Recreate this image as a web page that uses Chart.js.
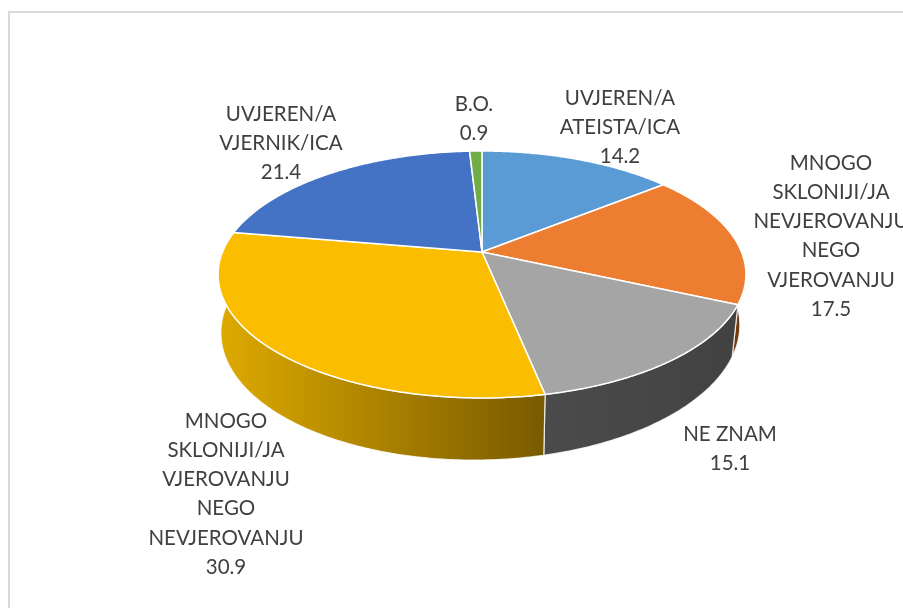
<!DOCTYPE html>
<html>
<head>
<meta charset="utf-8">
<title>Pie</title>
<script src="https://cdn.jsdelivr.net/npm/chart.js@4/dist/chart.umd.min.js"></script>
<style>
  html, body { margin: 0; padding: 0; background: #fff; overflow: hidden; }
  #wrap { position: relative; width: 903px; height: 608px; }
  #frame { position: absolute; left: 8px; top: 11px; right: -4px; bottom: -4px; border-left: 2px solid #d9d9d9; border-top: 2px solid #d9d9d9; }
  canvas { position: absolute; left: 0; top: 0; }
</style>
</head>
<body>
<div id="wrap">
  <div id="frame"></div>
  <canvas id="chart" width="903" height="608"></canvas>
</div>
<script>
// Data
const categories = [
  "UVJEREN/A ATEISTA/ICA",
  "MNOGO SKLONIJI/JA NEVJEROVANJU NEGO VJEROVANJU",
  "NE ZNAM",
  "MNOGO SKLONIJI/JA VJEROVANJU NEGO NEVJEROVANJU",
  "UVJEREN/A VJERNIK/ICA",
  "B.O."
];
const values = [14.2, 17.5, 15.1, 30.9, 21.4, 0.9];

// Styles
const topColors = ["#5b9bd5", "#ed7d31", "#a5a5a5", "#fbbd00", "#4472c4", "#70ad47"];
const wallFrom = ["#2e6da4", "#8a4716", "#4b4b4b", "#deaa00", "#2f5597", "#4c7a2f"];
const wallTo = ["#2e6da4", "#6f3810", "#424242", "#785a00", "#2f5597", "#4c7a2f"];

// Label layout: lines per category, with the centre of the block and first line
const labelLines = [
  ["UVJEREN/A", "ATEISTA/ICA"],
  ["MNOGO", "SKLONIJI/JA", "NEVJEROVANJU", "NEGO", "VJEROVANJU"],
  ["NE ZNAM"],
  ["MNOGO", "SKLONIJI/JA", "VJEROVANJU", "NEGO", "NEVJEROVANJU"],
  ["UVJEREN/A", "VJERNIK/ICA"],
  ["B.O."]
];
const labelX = [620, 831, 730, 226, 281, 474];
const labelY = [98.5, 163.5, 434.5, 421.5, 114.5, 104.5];
const lineHeight = 29.1;

// Tilted view of the round pie, fitted on the picture
const STRETCH_X = 259.5 / 119.4;
const PERSP = -0.182;
const DEPTH_W = 0.0165;
const DEPTH_Y = 54.2 / 119.4;
const LOWER_SHIFT_X = 2;
const LOWER_SKEW_Y = 5;

function project(arc, angle, lower) {
  const u = Math.cos(angle), v = Math.sin(angle);
  const r = arc.outerRadius;
  const w = 1 + PERSP * v + (lower ? DEPTH_W : 0);
  const p = {
    x: arc.x + r * STRETCH_X * u / w,
    y: arc.y + r * (v + (lower ? DEPTH_Y : 0)) / w
  };
  if (lower) {
    p.x -= LOWER_SHIFT_X * (1 - v);
    p.y -= LOWER_SKEW_Y * u;
  }
  return p;
}

function arcPoints(arc, lower) {
  const n = Math.max(2, Math.ceil((arc.endAngle - arc.startAngle) / 0.01));
  const pts = [];
  for (let i = 0; i <= n; i++) {
    pts.push(project(arc, arc.startAngle + (arc.endAngle - arc.startAngle) * i / n, lower));
  }
  return pts;
}

const tiltedPie = {
  id: "tiltedPie",
  beforeDatasetDraw(chart, args) {
    const ctx = chart.ctx;
    const arcs = chart.getDatasetMeta(args.index).data;

    // side walls first, the top faces cover what is behind them
    arcs.forEach((arc, i) => {
      const upper = arcPoints(arc, false);
      const lower = arcPoints(arc, true);
      const xs = upper.concat(lower).map(p => p.x);
      const grad = ctx.createLinearGradient(Math.min(...xs), 0, Math.max(...xs), 0);
      grad.addColorStop(0, wallFrom[i]);
      grad.addColorStop(1, wallTo[i]);
      ctx.beginPath();
      upper.forEach((p, k) => k ? ctx.lineTo(p.x, p.y) : ctx.moveTo(p.x, p.y));
      lower.reverse().forEach(p => ctx.lineTo(p.x, p.y));
      ctx.closePath();
      ctx.fillStyle = grad;
      ctx.fill();
      ctx.strokeStyle = "rgba(255,255,255,0.8)";
      ctx.lineWidth = 1.2;
      ctx.stroke();
    });

    arcs.forEach((arc, i) => {
      ctx.beginPath();
      ctx.moveTo(arc.x, arc.y);
      arcPoints(arc, false).forEach(p => ctx.lineTo(p.x, p.y));
      ctx.closePath();
      ctx.fillStyle = topColors[i];
      ctx.fill();
      ctx.strokeStyle = "#ffffff";
      ctx.lineWidth = 1.5;
      ctx.lineJoin = "round";
      ctx.stroke();
    });
    return false;
  },
  afterDatasetsDraw(chart) {
    const ctx = chart.ctx;
    ctx.save();
    ctx.font = "20.5px Lato, 'Open Sans', sans-serif";
    ctx.fillStyle = "#404040";
    ctx.textAlign = "center";
    ctx.textBaseline = "middle";
    labelLines.forEach((lines, i) => {
      lines.concat(values[i].toFixed(1)).forEach((line, k) => {
        ctx.fillText(line, labelX[i], labelY[i] + k * lineHeight);
      });
    });
    ctx.restore();
  }
};

new Chart(document.getElementById("chart"), {
  type: "pie",
  data: {
    labels: categories,
    datasets: [{ data: values, backgroundColor: topColors, borderWidth: 0 }]
  },
  options: {
    responsive: false,
    animation: false,
    layout: { padding: { left: 223, right: 162, top: 132.6, bottom: 236.6 } },
    plugins: { legend: { display: false }, tooltip: { enabled: false } }
  },
  plugins: [tiltedPie]
});
</script>
</body>
</html>
